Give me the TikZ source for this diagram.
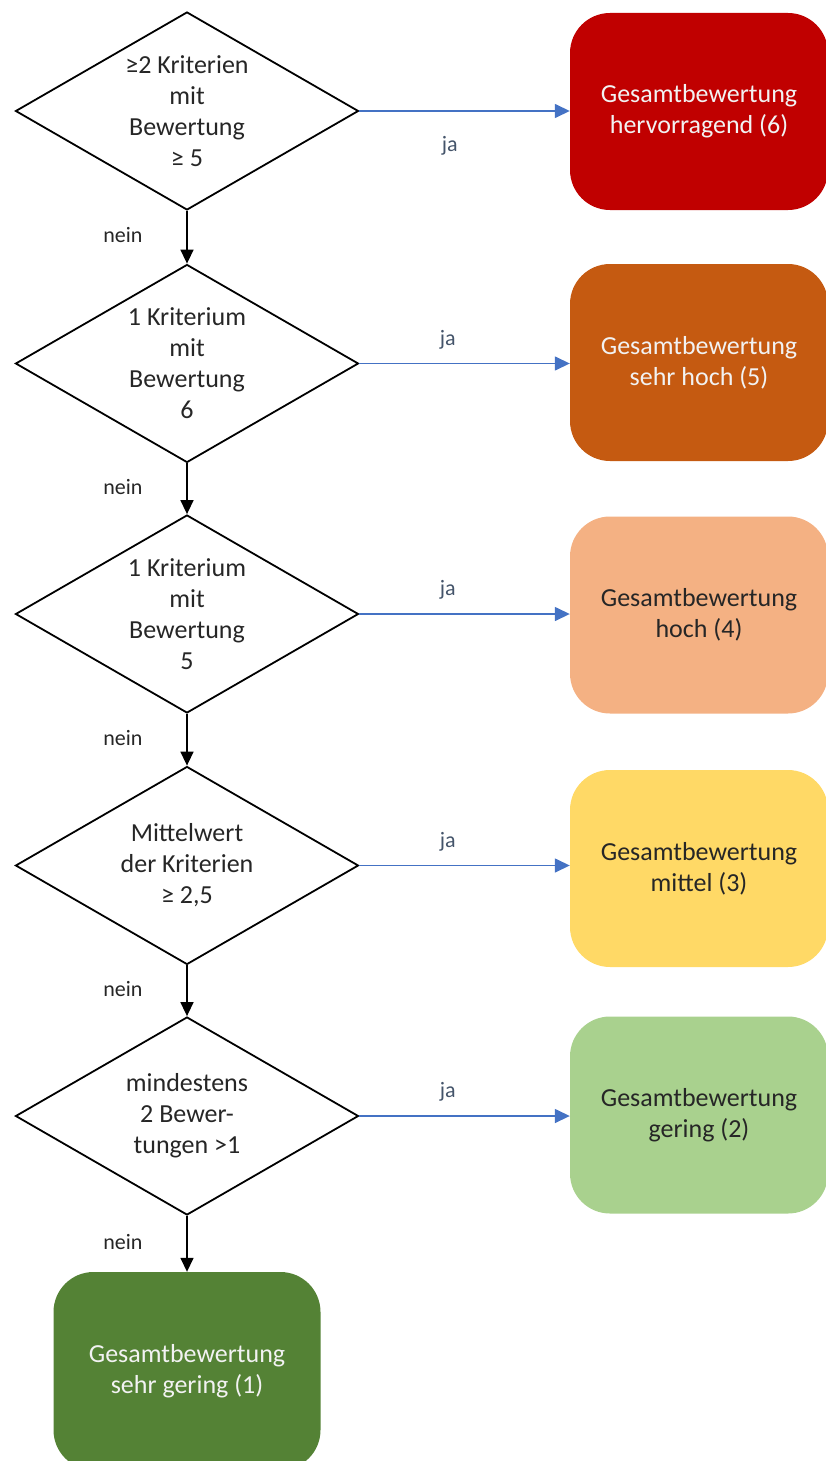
\documentclass[tikz,border=0pt]{standalone}
\usepackage{fontspec}
\setmainfont{Carlito}
\usetikzlibrary{shapes.geometric,arrows.meta}
\definecolor{c6}{HTML}{C00000}
\definecolor{c5}{HTML}{C55A11}
\definecolor{c4}{HTML}{F4B183}
\definecolor{c3}{HTML}{FFD966}
\definecolor{c2}{HTML}{A9D18E}
\definecolor{c1}{HTML}{548235}
\definecolor{jablue}{HTML}{4472C4}
\definecolor{jatext}{HTML}{44546A}
\definecolor{dtext}{HTML}{262626}
\tikzset{
  dec/.style={shape=diamond, draw=black, line width=1.8pt, minimum width=343pt, minimum height=198pt, inner sep=0pt},
  dtxt/.style={font=\fontsize{26}{31}\selectfont, align=center, text=dtext},
  res/.style={shape=rectangle, rounded corners=40pt, minimum width=258pt, minimum height=197pt, inner sep=0pt, align=center, font=\fontsize{26}{31}\selectfont},
  yes/.style={draw=jablue, line width=1.5pt, -{Triangle[length=15pt,width=14pt]}},
  no/.style={draw=black, line width=1.5pt, -{Triangle[length=14pt,width=13pt]}},
  lab/.style={font=\fontsize{22}{26}\selectfont},
}
\begin{document}
\begin{tikzpicture}[x=1pt,y=-1pt]
\useasboundingbox (0,0) rectangle (825,1461);
% decisions
\node[dec, label={[dtxt]center:{≥2 Kriterien\\mit\\Bewertung\\≥ 5}}] (d1) at (187,111) {};
\node[dec, label={[dtxt]center:{1 Kriterium\\mit\\Bewertung\\6}}] (d2) at (187,363.5) {};
\node[dec, label={[dtxt]center:{1 Kriterium\\mit\\Bewertung\\5}}] (d3) at (187,614) {};
\node[dec, label={[dtxt]center:{Mittelwert\\der Kriterien\\≥ 2,5}}] (d4) at (187,865.5) {};
\node[dec, label={[dtxt]center:{mindestens\\2 Bewer-\\tungen >1}}] (d5) at (187,1116) {};
% results
\node[res, fill=c6, text=white!95!black] (b6) at (699,111.5) {Gesamtbewertung\\hervorragend (6)};
\node[res, fill=c5, text=white!95!black] (b5) at (699,362.5) {Gesamtbewertung\\sehr hoch (5)};
\node[res, fill=c4, text=dtext] (b4) at (699,615) {Gesamtbewertung\\hoch (4)};
\node[res, fill=c3, text=dtext] (b3) at (699,868.5) {Gesamtbewertung\\mittel (3)};
\node[res, fill=c2, text=dtext] (b2) at (699,1115) {Gesamtbewertung\\gering (2)};
\node[res, fill=c1, text=white!95!black, minimum width=267pt, minimum height=198pt] (b1) at (187,1371) {Gesamtbewertung\\sehr gering (1)};
% ja arrows
\draw[yes] (d1.east) -- (d1.east -| b6.west) node[lab, text=jatext, pos=0.43, yshift=-35pt] {ja};
\draw[yes] (d2.east) -- (d2.east -| b5.west) node[lab, text=jatext, pos=0.42, yshift=24pt] {ja};
\draw[yes] (d3.east) -- (d3.east -| b4.west) node[lab, text=jatext, pos=0.42, yshift=24pt] {ja};
\draw[yes] (d4.east) -- (d4.east -| b3.west) node[lab, text=jatext, pos=0.42, yshift=24pt] {ja};
\draw[yes] (d5.east) -- (d5.east -| b2.west) node[lab, text=jatext, pos=0.42, yshift=24pt] {ja};
% nein arrows
\draw[no] (d1.south) -- (d2.north) node[lab, text=dtext, midway, xshift=-64pt, yshift=2pt] {nein};
\draw[no] (d2.south) -- (d3.north) node[lab, text=dtext, midway, xshift=-64pt, yshift=2pt] {nein};
\draw[no] (d3.south) -- (d4.north) node[lab, text=dtext, midway, xshift=-64pt, yshift=2pt] {nein};
\draw[no] (d4.south) -- (d5.north) node[lab, text=dtext, midway, xshift=-64pt, yshift=2pt] {nein};
\draw[no] (d5.south) -- (b1.north) node[lab, text=dtext, midway, xshift=-64pt, yshift=2pt] {nein};
\end{tikzpicture}
\end{document}
